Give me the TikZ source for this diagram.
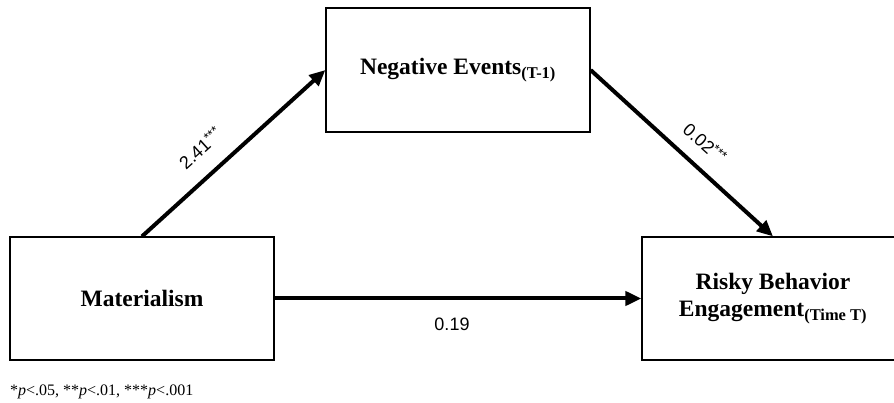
\documentclass[tikz,border=0pt]{standalone}
\usepackage{fontspec}
\setmainfont{Liberation Serif}
\newfontfamily\arialfont{Liberation Sans}
\usetikzlibrary{arrows.meta}
\newcommand{\sigstars}{\raisebox{0.55ex}{\fontsize{13}{13}\selectfont ***}}
\tikzset{
  boxnode/.style={draw, line width=1.2pt, minimum width=264pt, minimum height=123pt, inner sep=0pt, align=center, font=\fontsize{23.5}{27}\selectfont\bfseries},
  pathline/.style={line width=4pt, -{Triangle[length=16pt,width=14pt]}},
  coef/.style={font=\arialfont\fontsize{18}{20}\selectfont, inner sep=1pt}
}
\begin{document}
\begin{tikzpicture}[x=1pt,y=-1pt]
\useasboundingbox (0,0) rectangle (894,403);
\node[boxnode] (mat) at (142,298.5) {Materialism};
\node[boxnode, minimum height=124pt] (neg) at (458,70) {Negative Events\textsubscript{(T-1)}};
\node[boxnode, minimum width=262pt] (risk) at (773,298.5) {Risky Behavior\\Engagement\textsubscript{(Time T)}};
\draw[pathline] (mat.north) -- (neg.west);
\draw[pathline] (neg.east) -- (risk.north);
\draw[pathline] (mat.east) -- (risk.west);
\node[coef, rotate=42] (c1) at (200,148) {2.41\sigstars};
\node[coef, rotate=-42] (c2) at (705,143) {0.02\sigstars};
\node[coef] (c3) at (452,324) {0.19};
\node[anchor=base west, inner sep=0pt, font=\fontsize{16}{18}\selectfont] (note) at (10,395) {*\textit{p}<.05, **\textit{p}<.01, ***\textit{p}<.001};
\end{tikzpicture}
\end{document}
